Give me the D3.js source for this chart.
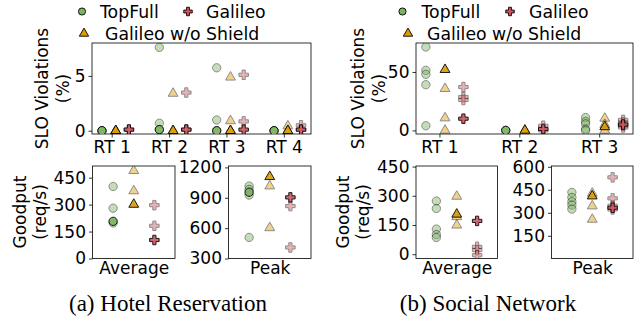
<!DOCTYPE html>
<html>
<head>
<meta charset="utf-8">
<script src="https://cdn.jsdelivr.net/npm/d3@7"></script>
<style>
  body { margin: 0; background: #fff; }
  text { font-family: "DejaVu Sans", sans-serif; }
  .caption { font-family: "Liberation Serif", "Times New Roman", serif; }
</style>
</head>
<body>
<div id="chart"></div>
<script>
// ---- data ----
// each method: "main" = the dark, highlighted run (null = none), "runs" = the faded ones
let hrCats = ["RT 1", "RT 2", "RT 3", "RT 4"];
let hrSloTopFullMain = [0, 0.1, 0, 0];
let hrSloTopFullRuns = [[0, 0], [7.6, 0.68, 0.1], [5.74, 0.98, 0], [0, 0]];
let hrSloNoShieldMain = [0, 0, 0, 0];
let hrSloNoShieldRuns = [[0, 0], [3.4, 0], [4.88, 0.9, 0], [0.43, 0]];
let hrSloGalileoMain = [0.1, 0.1, 0.1, 0.1];
let hrSloGalileoRuns = [[0.1], [3.48, 0.1], [5.1, 0.85], [0.5, 0.1]];

let hrAvgMain = [207, 301, 103];            // TopFull, w/o Shield, Galileo
let hrAvgRuns = [[401, 280, 198], [489, 376], [297, 182]];
let hrPeakMain = [955, 1108, 904];
let hrPeakRuns = [[1016, 983, 927, 508], [1016, 603], [818, 409]];

let snCats = ["RT 1", "RT 2", "RT 3"];
let snSloTopFullMain = [null, 0, null];
let snSloTopFullRuns = [[71.4, 51.4, 48, 39.1, 4], [0], [11, 7.7, 5.7, 1.2, 0]];
let snSloNoShieldMain = [52, 0, 3];
let snSloNoShieldRuns = [[35.7, 10.6, 0], [0], [10.3, 4.9, 0]];
let snSloGalileoMain = [10, 1.2, 5];
let snSloGalileoRuns = [[37.1, 28.6, 26], [4, 0], [9, 6.7, 4, 2.5]];

let snAvgMain = [null, 205, 171];
let snAvgRuns = [[273, 235, 129, 101, 86], [297, 192, 149], [38, 21, -5]];
let snPeakMain = [null, 409, 333];
let snPeakRuns = [[433, 400, 372, 350, 324], [427, 344, 257], [531, 394, 346, 322]];

let hrSloTicks = [0, 5];
let snSloTicks = [0, 50];
let hrAvgTicks = [0, 150, 300, 450];
let hrPeakTicks = [300, 600, 900, 1200];
let snAvgTicks = [0, 150, 300, 450];
let snPeakTicks = [150, 300, 450, 600];

// ---- styles ----
let methodNames = ["TopFull", "Galileo w/o Shield", "Galileo"];
let methodColours = ["#7cb562", "#dc9c00", "#d0545c"];
let methodSymbols = [d3.symbolCircle, d3.symbolTriangle, d3.symbolCross];
let symbolSizes = [54, 42, 50];
let catOffsets = [-0.17, 0.07, 0.3];
let tickFont = 17;
let labelFont = 17;
let legendFont = 17.3;

const width = 639;
const height = 324;

var svg = d3.select("#chart")
    .append("svg")
    .attr("width", width)
    .attr("height", height);

function drawMarker(g, x, y, m, faded) {
    g.append("path")
        .attr("d", d3.symbol().type(methodSymbols[m]).size(symbolSizes[m]))
        .attr("transform", "translate(" + x + "," + y + ")")
        .attr("fill", methodColours[m])
        .attr("stroke", "#000")
        .attr("stroke-width", 1)
        .attr("opacity", faded ? 0.45 : 0.9);
}

function drawPanel(box, xDomain, yDomain, xTicks, xLabels, yTicks, xTickLen) {
    var x = d3.scaleLinear().domain(xDomain).range([box.x0, box.x1]);
    var y = d3.scaleLinear().domain(yDomain).range([box.y1, box.y0]);
    var g = svg.append("g");

    var xAxis = d3.axisBottom(x).tickValues(xTicks)
        .tickFormat((d, i) => xLabels[i]).tickSize(xTickLen).tickPadding(3);
    var yAxis = d3.axisLeft(y).tickValues(yTicks)
        .tickFormat(d3.format("d")).tickSize(3.5).tickPadding(3);

    g.append("g").attr("transform", "translate(0," + box.y1 + ")").call(xAxis);
    g.append("g").attr("transform", "translate(" + box.x0 + ",0)").call(yAxis);
    g.selectAll(".domain").remove();
    g.selectAll(".tick line").attr("stroke", "#000").attr("stroke-width", 0.8);
    g.selectAll(".tick text").attr("font-size", tickFont)
        .attr("font-family", "DejaVu Sans").attr("fill", "#000");

    g.append("rect")
        .attr("x", box.x0).attr("y", box.y0)
        .attr("width", box.x1 - box.x0).attr("height", box.y1 - box.y0)
        .attr("fill", "none").attr("stroke", "#000").attr("stroke-width", 0.8);

    var clip = "clip" + Math.round(box.x0) + "_" + Math.round(box.y0);
    svg.append("clipPath").attr("id", clip).append("rect")
        .attr("x", box.x0).attr("y", box.y0)
        .attr("width", box.x1 - box.x0).attr("height", box.y1 - box.y0);
    var marks = g.append("g").attr("clip-path", "url(#" + clip + ")");
    return { x: x, y: y, marks: marks };
}

// categorical panel: mains[m][cat], runs[m][cat] -> [values]
function sloPanel(box, cats, mains, runs, yDomain, yTicks) {
    var lo = catOffsets[0], hi = cats.length - 1 + catOffsets[2];
    var pad = (hi - lo) * 0.05;
    var p = drawPanel(box, [lo - pad, hi + pad], yDomain, d3.range(cats.length), cats, yTicks, 3.5);
    for (let m = 0; m < 3; m++) {
        cats.forEach((c, i) => {
            runs[m][i].forEach(v => drawMarker(p.marks, p.x(i + catOffsets[m]), p.y(v), m, true));
        });
    }
    for (let m = 0; m < 3; m++) {
        cats.forEach((c, i) => {
            if (mains[m][i] !== null) drawMarker(p.marks, p.x(i + catOffsets[m]), p.y(mains[m][i]), m, false);
        });
    }
}

function goodputPanel(box, label, mains, runs, yDomain, yTicks) {
    var p = drawPanel(box, [-1, 3], yDomain, [1], [label], yTicks, 0);
    for (let m = 0; m < 3; m++) {
        runs[m].forEach(v => drawMarker(p.marks, p.x(m), p.y(v), m, true));
    }
    for (let m = 0; m < 3; m++) {
        if (mains[m] !== null) drawMarker(p.marks, p.x(m), p.y(mains[m]), m, false);
    }
}

function yLabel(cx1, cx2, cy, line1, line2) {
    [[cx1, line1], [cx2, line2]].forEach(function(l) {
        svg.append("text")
            .attr("transform", "translate(" + l[0] + "," + cy + ") rotate(-90)")
            .attr("text-anchor", "middle")
            .attr("dominant-baseline", "central")
            .attr("font-size", labelFont)
            .text(l[1]);
    });
}

function legend(pos) {
    pos.forEach(function(p) {
        var g = svg.append("g");
        g.append("path")
            .attr("d", d3.symbol().type(methodSymbols[p.m]).size(p.m === 1 ? 38 : 40))
            .attr("transform", "translate(" + p.mx + "," + p.y + ")")
            .attr("fill", methodColours[p.m])
            .attr("stroke", "#000").attr("stroke-width", 0.9);
        g.append("text")
            .attr("x", p.tx).attr("y", p.y + 6)
            .attr("font-size", legendFont)
            .text(methodNames[p.m]);
    });
}

// ---- (a) Hotel Reservation ----
sloPanel({ x0: 92, x1: 311, y0: 43, y1: 134 }, hrCats,
    [hrSloTopFullMain, hrSloNoShieldMain, hrSloGalileoMain],
    [hrSloTopFullRuns, hrSloNoShieldRuns, hrSloGalileoRuns],
    [-0.3, 8], hrSloTicks);
goodputPanel({ x0: 92.5, x1: 175, y0: 166, y1: 258.5 }, "Average", hrAvgMain, hrAvgRuns, [0, 515], hrAvgTicks);
goodputPanel({ x0: 228.5, x1: 311, y0: 166, y1: 258.5 }, "Peak", hrPeakMain, hrPeakRuns, [300, 1214], hrPeakTicks);
yLabel(42, 63, 88.5, "SLO Violations", "(%)");
yLabel(20, 40, 212, "Goodput", "(req/s)");
legend([
    { m: 0, mx: 82, tx: 100, y: 11.5 },
    { m: 2, mx: 188, tx: 206, y: 11.5 },
    { m: 1, mx: 84, tx: 105, y: 33.5 }
]);

// ---- (b) Social Network ----
sloPanel({ x0: 416, x1: 633, y0: 43, y1: 134 }, snCats,
    [snSloTopFullMain, snSloNoShieldMain, snSloGalileoMain],
    [snSloTopFullRuns, snSloNoShieldRuns, snSloGalileoRuns],
    [-3.1, 74.8], snSloTicks);
goodputPanel({ x0: 416, x1: 497.5, y0: 166, y1: 258.5 }, "Average", snAvgMain, snAvgRuns, [-22, 453], snAvgTicks);
goodputPanel({ x0: 551.5, x1: 633, y0: 166, y1: 258.5 }, "Peak", snPeakMain, snPeakRuns, [2, 605], snPeakTicks);
yLabel(358, 379, 88.5, "SLO Violations", "(%)");
yLabel(343, 363, 212, "Goodput", "(req/s)");
legend([
    { m: 0, mx: 402.5, tx: 421.5, y: 11.5 },
    { m: 2, mx: 510, tx: 529, y: 11.5 },
    { m: 1, mx: 408, tx: 427, y: 33.5 }
]);

// ---- captions ----
svg.append("text").attr("class", "caption")
    .attr("x", 168).attr("y", 311).attr("text-anchor", "middle")
    .attr("font-size", 23).text("(a) Hotel Reservation");
svg.append("text").attr("class", "caption")
    .attr("x", 488).attr("y", 311).attr("text-anchor", "middle")
    .attr("font-size", 23).text("(b) Social Network");
</script>
</body>
</html>
